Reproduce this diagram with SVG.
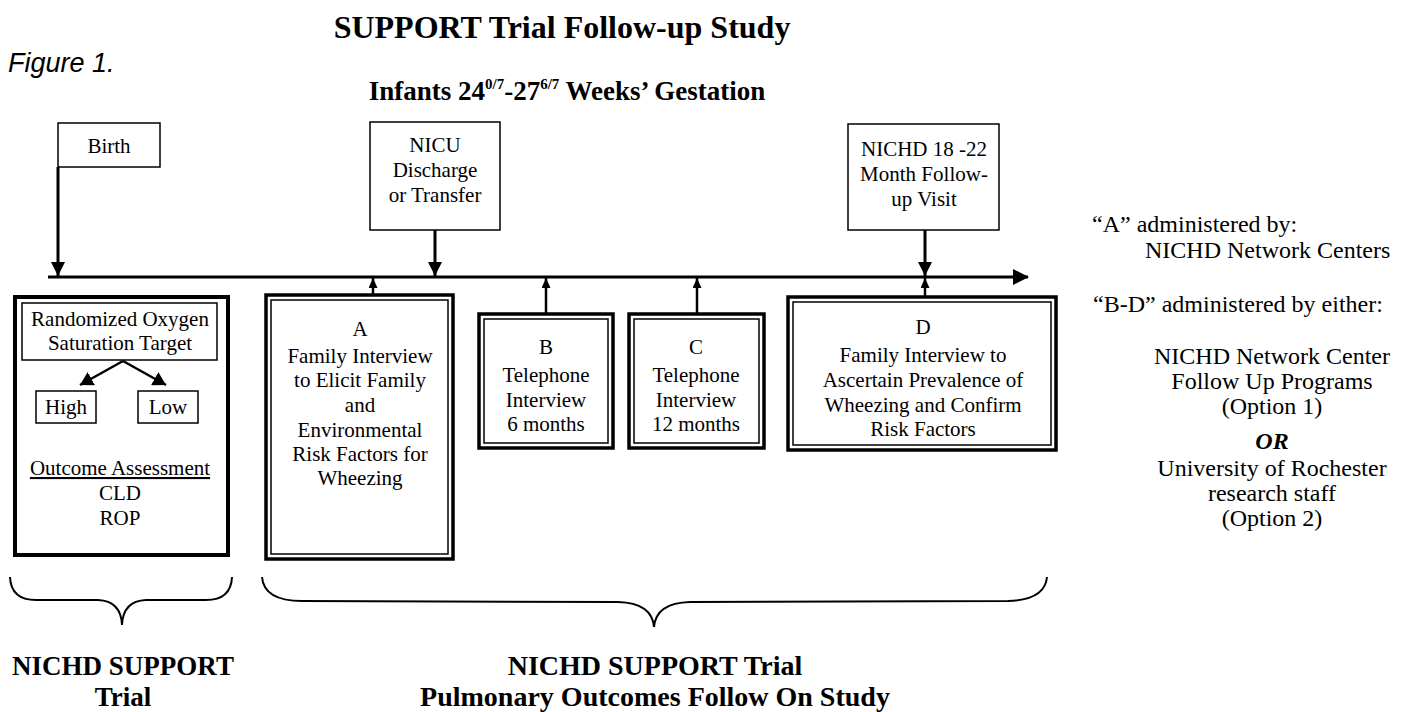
<svg xmlns="http://www.w3.org/2000/svg" width="1406" height="712" viewBox="0 0 1406 712">
<style>
text{font-family:"Liberation Serif","Times New Roman",serif;fill:#000}
.t{font-size:21px;text-anchor:middle}
.r{font-size:24px}
.rc{font-size:24px;text-anchor:middle}
.b{font-weight:bold;text-anchor:middle}
.box{fill:#fff;stroke:#000;stroke-width:1.5}
.thick{fill:#fff;stroke:#000;stroke-width:4}
.outer{fill:#fff;stroke:#000;stroke-width:3.5}
.inner{fill:none;stroke:#000;stroke-width:1.5}
.ln{fill:none;stroke:#000;stroke-width:3}
.thin{fill:none;stroke:#000;stroke-width:2.5}
.brace{fill:none;stroke:#000;stroke-width:2}
</style>
<defs>
<marker id="ahBig" markerUnits="userSpaceOnUse" markerWidth="16" markerHeight="16" viewBox="0 0 16 16" refX="15" refY="8" orient="auto"><path d="M0,0 L16,8 L0,16 Z" fill="#000"/></marker>
<marker id="ahDown" markerUnits="userSpaceOnUse" markerWidth="14" markerHeight="14" viewBox="0 0 14 14" refX="14" refY="7" orient="auto"><path d="M0,0 L14,7 L0,14 Z" fill="#000"/></marker>
<marker id="ahUp" markerUnits="userSpaceOnUse" markerWidth="10" markerHeight="9" viewBox="0 0 10 9" refX="10" refY="4.5" orient="auto"><path d="M0,0 L10,4.5 L0,9 Z" fill="#000"/></marker>
<marker id="ahSm" markerUnits="userSpaceOnUse" markerWidth="13" markerHeight="15" viewBox="0 0 13 15" refX="13" refY="7.5" orient="auto"><path d="M0,0 L13,7.5 L0,15 Z" fill="#000"/></marker>
</defs>

<g id="titles">
<text x="562" y="38" class="b" style="font-size:32px">SUPPORT Trial Follow-up Study</text>
<text x="8" y="72" style="font-family:'Liberation Sans',Arial,sans-serif;font-style:italic;font-size:27px">Figure 1.</text>
<text x="567" y="100" class="b" style="font-size:27px">Infants 24<tspan dy="-11" style="font-size:15px">0/7</tspan><tspan dy="11">-27</tspan><tspan dy="-11" style="font-size:15px">6/7</tspan><tspan dy="11"> Weeks’ Gestation</tspan></text>
</g>

<g id="birth">
<rect class="box" x="58" y="123" width="102" height="44"/>
<text class="t" x="109" y="153">Birth</text>
</g>

<g id="nicu">
<rect class="box" x="370" y="122" width="130" height="108"/>
<text class="t" x="435" y="152">NICU</text>
<text class="t" x="435" y="177">Discharge</text>
<text class="t" x="435" y="202">or Transfer</text>
</g>

<g id="nichd-visit">
<rect class="box" x="848" y="124" width="151" height="106"/>
<text class="t" x="924" y="156">NICHD 18 -22</text>
<text class="t" x="924" y="181">Month Follow-</text>
<text class="t" x="924" y="206">up Visit</text>
</g>

<g id="support-trial-box">
<rect class="thick" x="15" y="297" width="213" height="258"/>
<rect class="box" x="22" y="303" width="195" height="57"/>
<text class="t" x="120" y="326">Randomized Oxygen</text>
<text class="t" x="120" y="350">Saturation Target</text>
<rect class="box" x="36" y="391" width="60" height="32"/>
<text class="t" x="66" y="414">High</text>
<rect class="box" x="138" y="391" width="60" height="32"/>
<text class="t" x="168" y="414">Low</text>
<text class="t" x="120" y="475" text-decoration="underline">Outcome Assessment</text>
<text class="t" x="120" y="500">CLD</text>
<text class="t" x="120" y="525">ROP</text>
</g>

<g id="box-a">
<rect class="outer" x="266" y="295" width="187" height="264"/>
<rect class="inner" x="271" y="300" width="177" height="254"/>
<text class="t" x="360" y="336">A</text>
<text class="t" x="360" y="363">Family Interview</text>
<text class="t" x="360" y="387">to Elicit Family</text>
<text class="t" x="360" y="412">and</text>
<text class="t" x="360" y="437">Environmental</text>
<text class="t" x="360" y="461">Risk Factors for</text>
<text class="t" x="360" y="485">Wheezing</text>
</g>

<g id="box-b">
<rect class="outer" x="479" y="314" width="134" height="134"/>
<rect class="inner" x="484" y="319" width="124" height="124"/>
<text class="t" x="546" y="354">B</text>
<text class="t" x="546" y="382">Telephone</text>
<text class="t" x="546" y="407">Interview</text>
<text class="t" x="546" y="431">6 months</text>
</g>

<g id="box-c">
<rect class="outer" x="629" y="314" width="135" height="134"/>
<rect class="inner" x="634" y="319" width="125" height="124"/>
<text class="t" x="696" y="354">C</text>
<text class="t" x="696" y="382">Telephone</text>
<text class="t" x="696" y="407">Interview</text>
<text class="t" x="696" y="431">12 months</text>
</g>

<g id="box-d">
<rect class="outer" x="788" y="297" width="268" height="153"/>
<rect class="inner" x="793" y="302" width="258" height="143"/>
<text class="t" x="923" y="334">D</text>
<text class="t" x="923" y="362">Family Interview to</text>
<text class="t" x="923" y="387">Ascertain Prevalence of</text>
<text class="t" x="923" y="412">Wheezing and Confirm</text>
<text class="t" x="923" y="436">Risk Factors</text>
</g>

<g id="connectors">
<line class="ln" x1="48" y1="277" x2="1028" y2="277" marker-end="url(#ahBig)"/>
<line class="ln" x1="58" y1="167" x2="58" y2="276" marker-end="url(#ahDown)"/>
<line class="ln" x1="435" y1="230" x2="435" y2="276" marker-end="url(#ahDown)"/>
<line class="ln" x1="925" y1="230" x2="925" y2="276" marker-end="url(#ahDown)"/>
<line class="thin" x1="373" y1="294" x2="373" y2="278" marker-end="url(#ahUp)"/>
<line class="thin" x1="546" y1="313" x2="546" y2="278" marker-end="url(#ahUp)"/>
<line class="thin" x1="697" y1="313" x2="697" y2="278" marker-end="url(#ahUp)"/>
<line class="thin" x1="925" y1="296" x2="925" y2="278" marker-end="url(#ahUp)"/>
<line class="thin" x1="123" y1="361" x2="80" y2="385" marker-end="url(#ahSm)"/>
<line class="thin" x1="123" y1="361" x2="166" y2="385" marker-end="url(#ahSm)"/>
</g>

<g id="administration-notes">
<text class="r" x="1092" y="232">“A” administered by:</text>
<text class="r" x="1145" y="258">NICHD Network Centers</text>
<text class="r" x="1093" y="312">“B-D” administered by either:</text>
<text class="rc" x="1272" y="364">NICHD Network Center</text>
<text class="rc" x="1272" y="389">Follow Up Programs</text>
<text class="rc" x="1272" y="414">(Option 1)</text>
<text class="rc" x="1272" y="449" style="font-weight:bold;font-style:italic">OR</text>
<text class="rc" x="1272" y="476">University of Rochester</text>
<text class="rc" x="1272" y="501">research staff</text>
<text class="rc" x="1272" y="526">(Option 2)</text>
</g>

<g id="braces">
<path class="brace" d="M10 577 Q11 600 36 600 L98 600 Q121 601 122 625 Q123 601 146 600 L206 600 Q231 600 232 577"/>
<path class="brace" d="M262 577 Q264 601 302 601 L618 602 Q652 603 654 627 Q656 603 690 602 L1008 601 Q1045 600 1047 577"/>
</g>

<g id="group-labels">
<text class="b" x="123" y="675" style="font-size:27px">NICHD SUPPORT</text>
<text class="b" x="123" y="706" style="font-size:27px">Trial</text>
<text class="b" x="655" y="675" style="font-size:28px">NICHD SUPPORT Trial</text>
<text class="b" x="655" y="706" style="font-size:28px">Pulmonary Outcomes Follow On Study</text>
</g>
</svg>
